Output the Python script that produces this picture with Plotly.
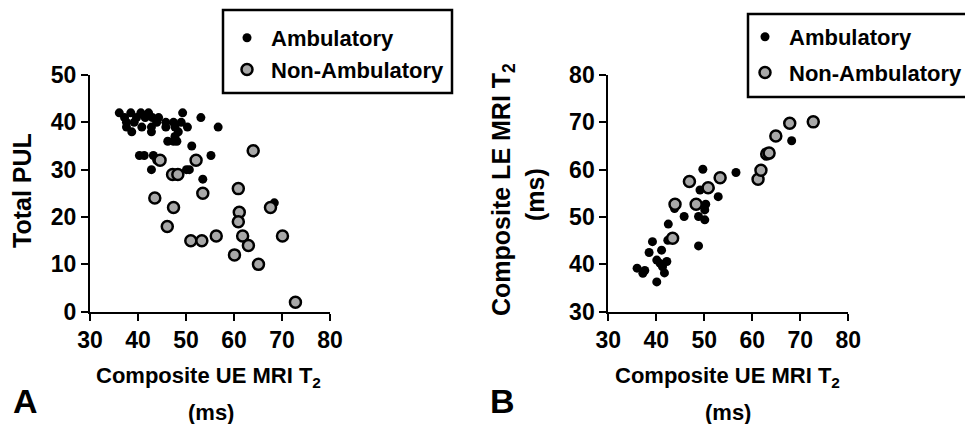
import plotly.graph_objects as go

# ---------------- data ----------------
amb_a_x = [36.1, 38.5, 40.6, 42.2, 44.3, 49.3, 53.1, 37.6, 39.7, 37.6, 38.7, 40.8, 42.8, 42.8,
           43.9, 45.8, 45.8, 47.4, 47.7, 48.4, 50.3, 56.7, 46.2, 47.4, 48.1, 47.7, 51.2, 40.3,
           41.3, 43.2, 43.9, 42.8, 50.1, 50.7, 55.2, 53.5, 68.4, 37.2, 41.5, 39.2, 49.0, 43.0]
amb_a_y = [42, 42, 42, 42, 41, 42, 41, 40, 41, 39, 38, 39, 39, 38,
           40, 40, 39, 40, 39, 38, 39, 39, 36, 36, 36, 37, 35, 33,
           33, 33, 32, 30, 30, 30, 33, 28, 23, 41, 41, 40, 40, 41]

non_a_x = [44.6, 52.1, 64.0, 47.2, 48.3, 43.5, 53.5, 47.4, 46.1, 51.0, 53.3, 56.3, 60.9,
           61.1, 60.9, 61.8, 63.0, 60.1, 65.1, 67.6, 70.1, 72.8]
non_a_y = [32, 32, 34, 29, 29, 24, 25, 22, 18, 15, 15, 16, 26,
           21, 19, 16, 14, 12, 10, 22, 16, 2]

amb_b_x = [36.0, 37.2, 37.6, 39.2, 38.5, 40.1, 40.1, 41.1, 41.3, 41.7, 42.2, 42.5, 42.4, 43.2,
           43.8, 45.8, 48.8, 48.8, 49.7, 49.1, 50.3, 50.1, 50.1, 51.2, 52.9, 56.6, 68.2, 40.8]
amb_b_y = [39.2, 38.1, 38.7, 44.8, 42.5, 36.3, 40.9, 43.0, 39.5, 38.2, 40.6, 48.5, 45.1, 45.8,
           51.8, 50.1, 50.1, 43.9, 60.1, 55.7, 52.7, 51.5, 49.4, 56.1, 54.3, 59.4, 66.1, 40.2]

non_b_x = [46.9, 53.3, 48.3, 43.9, 43.4, 50.8, 61.2, 61.8, 63.0, 63.5, 64.9, 67.8, 72.7]
non_b_y = [57.5, 58.3, 52.7, 52.7, 45.5, 56.2, 58.0, 59.9, 63.3, 63.5, 67.1, 69.8, 70.1]

x_ticks = [30, 40, 50, 60, 70, 80]
ya_ticks = [0, 10, 20, 30, 40, 50]
yb_ticks = [30, 40, 50, 60, 70, 80]

# ---------------- figure ----------------
W, H = 965, 424
FONT = "Liberation Sans, Arial, sans-serif"

amb_marker = dict(color="black", size=9, line=dict(width=0))
non_marker = dict(color="#a8a8a8", size=11, line=dict(color="black", width=2.5))

fig = go.Figure()
fig.add_trace(go.Scatter(x=amb_a_x, y=amb_a_y, mode="markers", name="Ambulatory",
                         marker=amb_marker, xaxis="x", yaxis="y", legend="legend",
                         legendgroup="a1"))
fig.add_trace(go.Scatter(x=non_a_x, y=non_a_y, mode="markers", name="Non-Ambulatory",
                         marker=non_marker, xaxis="x", yaxis="y", legend="legend",
                         legendgroup="a2"))
fig.add_trace(go.Scatter(x=amb_b_x, y=amb_b_y, mode="markers", name="Ambulatory",
                         marker=amb_marker, xaxis="x2", yaxis="y2", legend="legend2",
                         legendgroup="b1"))
fig.add_trace(go.Scatter(x=non_b_x, y=non_b_y, mode="markers", name="Non-Ambulatory",
                         marker=non_marker, xaxis="x2", yaxis="y2", legend="legend2",
                         legendgroup="b2"))

tickfont = dict(family=FONT, size=23, color="black", weight="bold")
axis_common = dict(showline=True, linecolor="black", linewidth=2, ticks="outside",
                   ticklen=7, tickwidth=2, tickcolor="black", showgrid=False,
                   zeroline=False, tickfont=tickfont, fixedrange=True)

legfont = dict(family=FONT, size=22, color="black", weight="bold")
ydom = [1 - 311.7 / H, 1 - 75 / H]
fig.update_layout(
    width=W, height=H,
    margin=dict(l=0, r=0, t=0, b=0, autoexpand=False),
    paper_bgcolor="white", plot_bgcolor="white",
    xaxis=dict(domain=[90 / W, 330 / W], range=[30, 80], tickvals=x_ticks, anchor="y", **axis_common),
    yaxis=dict(domain=ydom, range=[0, 50], tickvals=ya_ticks, anchor="x", **axis_common),
    xaxis2=dict(domain=[608.3 / W, 848.3 / W], range=[30, 80], tickvals=x_ticks, anchor="y2", **axis_common),
    yaxis2=dict(domain=ydom, range=[30, 80], tickvals=yb_ticks, anchor="x2", **axis_common),
    legend=dict(x=223 / W, y=1 - 17 / H, xanchor="left", yanchor="top",
                borderwidth=0, bgcolor="rgba(0,0,0,0)", itemwidth=38,
                tracegroupgap=0, font=legfont),
    legend2=dict(x=741 / W, y=1 - 16 / H, xanchor="left", yanchor="top",
                 borderwidth=0, bgcolor="rgba(0,0,0,0)", itemwidth=38,
                 tracegroupgap=4, font=legfont),
    showlegend=True,
    shapes=[
        dict(type="rect", xref="paper", yref="paper", x0=223 / W, x1=452 / W,
             y0=1 - 93 / H, y1=1 - 10 / H, line=dict(color="black", width=2.5)),
        dict(type="rect", xref="paper", yref="paper", x0=748 / W, x1=980 / W,
             y0=1 - 97 / H, y1=1 - 14 / H, line=dict(color="black", width=2.5)),
    ],
)

def txt(s, x, y, size, angle=0):
    fig.add_annotation(text=s, x=x / W, y=1 - y / H, xref="paper", yref="paper",
                       showarrow=False, textangle=angle, xanchor="center", yanchor="middle",
                       font=dict(family=FONT, size=size, color="black", weight="bold"))

# axis titles
txt("Composite UE MRI T<sub>2</sub>", 208, 377, 22)
txt("(ms)", 211, 412, 22)
txt("Composite UE MRI T<sub>2</sub>", 727, 377, 22)
txt("(ms)", 728, 412, 22)
txt("Total PUL", 22, 191, 25, angle=-90)
txt("Composite LE MRI T<sub>2</sub>", 503, 190, 25, angle=-90)
txt("(ms)", 535, 195, 25, angle=-90)
# panel letters
txt("A", 25, 401, 34)
txt("B", 502, 401, 34)

fig.write_html("out.html")
